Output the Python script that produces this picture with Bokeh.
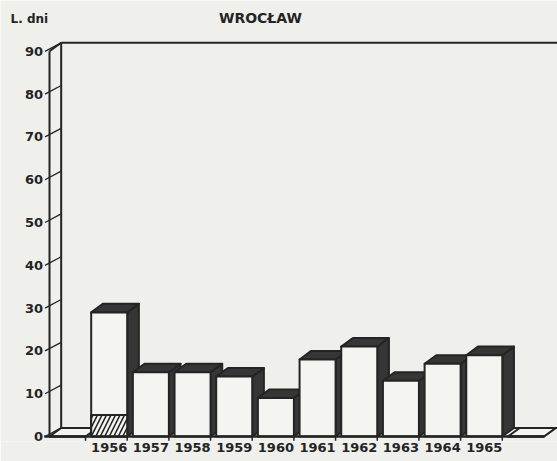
from bokeh.plotting import figure
from bokeh.models import Range1d, LinearAxis, FixedTicker, Label, ColumnDataSource
from bokeh.core.properties import value
from bokeh.embed import file_html
from bokeh.resources import INLINE

# Number of days per year in Wrocław (empty slots at both ends of the floor)
years = ["", "1956", "1957", "1958", "1959", "1960", "1961", "1962", "1963", "1964", "1965", ""]
days = [0, 29, 15, 15, 14, 9, 18, 21, 13, 17, 19, 0]
hatched_days = [0, 5, 0, 0, 0, 0, 0, 0, 0, 0, 0, 0]
y_ticks = [0, 10, 20, 30, 40, 50, 60, 70, 80, 90]
y_tick_labels = ["0", "10", "20", "30", "40", "50", "60", "70", "80", "90"]
y_max = 90

# 3D box geometry (x in slot units, y in days)
HW = 0.432   # half width of a bar's front face
DX = 0.28    # receding depth, horizontal part
DY = 2.0     # receding depth, vertical part

BG = "#efefeb"
FRONT = "#f4f4f1"
DARK = "#363636"
INK = "#242424"
FONT = "DejaVu Sans"

p = figure(width=557, height=461,
           x_range=Range1d(-1.608, 11.757), y_range=Range1d(-1.168, 101.87),
           output_backend="svg", toolbar_location=None,
           x_axis_location=None, y_axis_location=None,
           min_border_left=0, min_border_right=0, min_border_top=0, min_border_bottom=20)
p.background_fill_color = BG
p.border_fill_color = BG
p.outline_line_color = None
p.grid.visible = False

x_left = -HW
x_far = len(years) + 1.0

# back wall, left wall and floor edges
p.segment(x0=[x_left + DX, x_left + DX, x_left + DX, x_left, x_left],
          y0=[DY, y_max + DY, DY, 0, y_max],
          x1=[x_left + DX, x_far, x_far, x_left, x_left + DX],
          y1=[y_max + DY, y_max + DY, DY, y_max, y_max + DY],
          line_color=INK, line_width=2)

# slanted value ticks running from the front edge to the back wall
p.segment(x0=[-0.54] * len(y_ticks), y0=y_ticks,
          x1=[x_left + DX] * len(y_ticks), y1=[t + DY for t in y_ticks],
          line_color=INK, line_width=1.3)

# value labels along the front edge
p.text(x=[-0.585] * len(y_ticks), y=y_ticks, text=y_tick_labels,
       text_font=value(FONT), text_font_style="bold", text_font_size="13px",
       text_color=INK, text_align="right", text_baseline="middle")

# bars: side, top and front face of each, drawn left to right
xs, ys, fills = [], [], []
for k, v in enumerate(days):
    x0, x1 = k - HW, k + HW
    xs.append([x1, x1, x1 + DX, x1 + DX])
    ys.append([0, v, v + DY, DY])
    fills.append(DARK)
    xs.append([x0, x1, x1 + DX, x0 + DX])
    ys.append([v, v, v + DY, v + DY])
    fills.append(DARK if v > 0 else FRONT)
    xs.append([x0, x1, x1, x0])
    ys.append([0, 0, v, v])
    fills.append(FRONT)
faces = ColumnDataSource(dict(xs=xs, ys=ys, fill=fills))
p.patches("xs", "ys", source=faces, fill_color="fill", line_color=INK,
          line_width=2, line_join="round")

# hatched lower part
hk = [k for k, h in enumerate(hatched_days) if h > 0]
p.quad(left=[k - HW for k in hk], right=[k + HW for k in hk],
       bottom=[0] * len(hk), top=[hatched_days[k] for k in hk],
       fill_color=FRONT, hatch_pattern="/", hatch_color=INK, hatch_scale=9,
       hatch_weight=1.6, line_color=INK, line_width=2)

# front baseline with small ticks at bar edges
p.segment(x0=[-0.56], y0=[0], x1=[len(years) - 1 + HW], y1=[0], line_color=INK, line_width=2.5)
edge_x = [k + HW for k in range(len(years) - 1)]
p.segment(x0=edge_x, y0=[0] * len(edge_x), x1=edge_x, y1=[-1.0] * len(edge_x),
          line_color=INK, line_width=1.5)

# year axis
year_pos = [k for k, y in enumerate(years) if y]
xaxis = LinearAxis(ticker=FixedTicker(ticks=year_pos),
                   major_label_overrides={k: years[k] for k in year_pos})
xaxis.axis_line_color = None
xaxis.major_tick_line_color = None
xaxis.minor_tick_line_color = None
xaxis.major_tick_out = 0
xaxis.major_tick_in = 0
xaxis.major_label_standoff = 1
xaxis.major_label_text_font = FONT
xaxis.major_label_text_font_style = "bold"
xaxis.major_label_text_font_size = "13px"
xaxis.major_label_text_color = INK
p.add_layout(xaxis, "below")

# titles
p.add_layout(Label(x=4.63, y=97.7, text="WROCŁAW", text_font=FONT, text_font_style="bold",
                   text_font_size="14px", text_color=INK, text_align="center",
                   text_baseline="middle"))
p.add_layout(Label(x=-1.368, y=97.5, text="L. dni", text_font=FONT, text_font_style="bold",
                   text_font_size="12px", text_color=INK, text_align="left",
                   text_baseline="middle"))

open("out.html", "w").write(file_html(p, INLINE))
